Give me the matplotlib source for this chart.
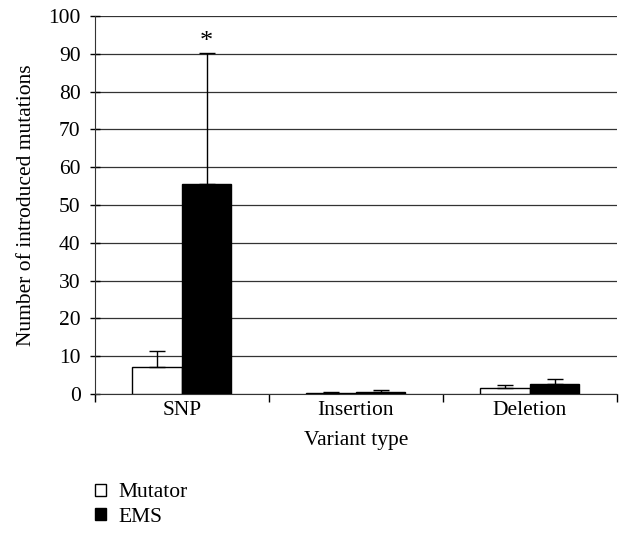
import numpy as np
import matplotlib
matplotlib.use("Agg")
import matplotlib.pyplot as plt
from matplotlib.patches import Patch

plt.rcParams['font.family'] = ['Liberation Serif', 'DejaVu Serif']

# data
categories = ["SNP", "Insertion", "Deletion"]
series_names = ["Mutator", "EMS"]
mutator_mean = [7.1, 0.3, 1.5]
mutator_err = [4.3, 0.2, 0.9]
ems_mean = [55.6, 0.4, 2.6]
ems_err = [34.6, 0.6, 1.4]
y_ticks = [0, 10, 20, 30, 40, 50, 60, 70, 80, 90, 100]

FS = 15.5

fig = plt.figure(figsize=(6.2, 5.33), dpi=100)
ax = fig.add_axes([0.153, 0.261, 0.842, 0.709])

x = np.arange(len(categories))
w = 0.285
ekw = dict(ecolor='black', elinewidth=1.0, capsize=6, capthick=1.0)

ax.bar(x - w / 2, mutator_mean, w, color='white', edgecolor='black', linewidth=1.0,
       yerr=[np.zeros(len(x)), mutator_err], error_kw=ekw, zorder=3)
ax.bar(x + w / 2, ems_mean, w, color='black', edgecolor='black', linewidth=1.0,
       yerr=[np.zeros(len(x)), ems_err], error_kw=ekw, zorder=3)

# significance marker
ax.annotate("*", (x[0] + w / 2, ems_mean[0] + ems_err[0]), xytext=(0, 0), textcoords='offset points',
            ha='center', va='bottom', fontsize=19)

ax.set_xlim(-0.5, len(categories) - 0.5)
ax.set_ylim(0, 100)
ax.set_yticks(y_ticks)
ax.yaxis.grid(True, color='#333333', linewidth=0.9, zorder=0)
ax.set_axisbelow(True)

ax.set_xticks(x)
ax.set_xticklabels(categories, fontsize=FS)
ax.tick_params(axis='x', length=0, pad=5)
ax.set_xticks(np.arange(len(categories) + 1) - 0.5, minor=True)
ax.tick_params(axis='x', which='minor', length=6, direction='out', width=1.0)
ax.tick_params(axis='y', labelsize=FS, direction='inout', length=7.5, width=1.0, pad=6.5)

for s in ['top', 'right']:
    ax.spines[s].set_visible(False)
ax.spines['left'].set_color('#333333')
ax.spines['bottom'].set_color('#333333')

ax.set_xlabel("Variant type", fontsize=FS, labelpad=8)
ax.set_ylabel("Number of introduced mutations", fontsize=FS, labelpad=9)

handles = [Patch(facecolor='white', edgecolor='black', label=series_names[0]),
           Patch(facecolor='black', edgecolor='black', label=series_names[1])]
fig.legend(handles=handles, loc='upper left', bbox_to_anchor=(0.153, 0.093), frameon=False,
           fontsize=FS, handlelength=0.5, handleheight=0.5, handletextpad=0.6, labelspacing=0.25,
           borderaxespad=0, borderpad=0)

fig.savefig("out.png", dpi=100)
